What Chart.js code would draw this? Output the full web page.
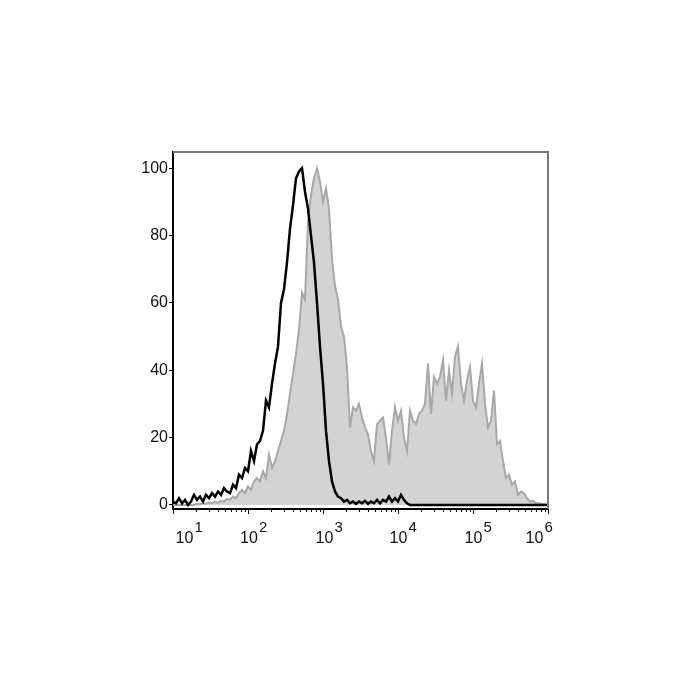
<!DOCTYPE html>
<html>
<head>
<meta charset="utf-8">
<script src="https://cdn.jsdelivr.net/npm/chart.js@4"></script>
<style>
  html, body { margin: 0; padding: 0; background: #fff; }
  #wrap { width: 700px; height: 700px; }
</style>
</head>
<body>
<div id="wrap"><canvas id="c" width="700" height="700"></canvas></div>
<script>
// Flow histogram: isotype control (black line) vs stained sample (grey filled)
// x is in log10 decades (10^1 .. 10^6), y is % of max

const decades = [1, 2, 3, 4, 5, 6];
const yTicks = [0, 20, 40, 60, 80, 100];

// channel grid: 126 bins, 0.04 decade wide, starting at 10^1
const CH_MIN = 1;
const CH_STEP = 0.04;

const isotype = [
  1, 0.5, 2, 0.5, 1.5, 0, 1, 3, 1.5, 2.5,
  1, 3, 2, 3.5, 2.5, 4, 3, 5, 4, 3.5,
  6, 5, 9, 8, 11, 10, 16, 13, 18, 19,
  22, 31, 29, 36, 42, 47, 60, 64, 72, 82,
  89, 97, 99, 100, 93, 88, 80, 72, 60, 47,
  36, 22, 13, 7, 4, 2.5, 2, 1, 1.5, 0.5,
  1, 0.3, 1, 0.5, 1.2, 0.3, 1, 0.5, 1.5, 0.5,
  1.5, 1, 2.5, 1, 2, 1, 3, 1.5, 0.5, 0,
  0, 0, 0, 0, 0, 0, 0, 0, 0, 0,
  0, 0, 0, 0, 0, 0, 0, 0, 0, 0,
  0, 0, 0, 0, 0, 0, 0, 0, 0, 0,
  0, 0, 0, 0, 0, 0, 0, 0, 0, 0,
  0, 0, 0, 0, 0, 0
];

const sample = [
  0, 0, 0, 0, 0, 0, 0, 0, 0.3, 0.2,
  0.5, 0.3, 0.8, 0.5, 1, 0.6, 1.2, 1, 1.8, 1.5,
  2.5, 2, 3.5, 4.5, 3.5, 5.5, 4.5, 7, 8, 7,
  10, 8, 15, 11, 13, 16, 19, 22, 27, 33,
  39, 45, 52, 63, 61, 84, 92, 97, 100, 96,
  90, 94, 88, 73, 65, 61, 53, 50, 41, 23,
  29, 28, 30, 26, 23, 21, 16, 13, 24, 25,
  26, 20, 12, 22, 29, 25, 28, 20, 16, 28,
  25, 24, 27, 28, 30, 42, 27, 38, 36, 38,
  43, 31, 40, 33, 44, 47, 36, 31, 37, 41,
  31, 29, 36, 42, 30, 23, 25, 34, 18, 19,
  13, 8, 9, 6, 7, 3, 4, 3.5, 2, 1,
  1.2, 0.5, 0.5, 0.3, 0.2, 0
];

const channels = sample.map((_, i) => CH_MIN + i * CH_STEP);
const toPts = vals => vals.map((v, i) => ({ x: channels[i], y: v }));

// edge labels sit inside the frame, like the original export
const labelNudge = [11.5, 1, 1.5, 0.5, 0.5, -13.5];
const FONT = '"Liberation Sans", Arial, sans-serif';

const frameAndLabels = {
  id: "frameAndLabels",
  afterDraw(chart){
    const { ctx, chartArea: a } = chart;
    const x = chart.scales.x;
    ctx.save();

    // top + right frame (lighter than the axes)
    ctx.strokeStyle = "#777";
    ctx.lineWidth = 2;
    ctx.beginPath();
    ctx.moveTo(a.left, a.top);
    ctx.lineTo(a.right, a.top);
    ctx.lineTo(a.right, a.bottom);
    ctx.stroke();

    // minor log ticks
    ctx.strokeStyle = "#000";
    ctx.lineWidth = 1;
    ctx.beginPath();
    decades.slice(0, -1).forEach(d => {
      for (let k = 2; k < 10; k++){
        const px = Math.round(x.getPixelForValue(d + Math.log10(k))) + 0.5;
        ctx.moveTo(px, a.bottom);
        ctx.lineTo(px, a.bottom + 3);
      }
    });
    ctx.stroke();

    // 10^n labels
    ctx.fillStyle = "#111";
    ctx.textBaseline = "alphabetic";
    decades.forEach((d, i) => {
      const px = x.getPixelForValue(d) + labelNudge[i];
      ctx.font = "16px " + FONT;
      const w = ctx.measureText("10").width;
      ctx.textAlign = "center";
      ctx.fillText("10", px, a.bottom + 34);
      ctx.font = "15px " + FONT;
      ctx.textAlign = "left";
      ctx.fillText(String(d), px + w / 2 + 1, a.bottom + 23);
    });
    ctx.restore();
  }
};

new Chart(document.getElementById("c"), {
  type: "line",
  data: {
    datasets: [
      {
        label: "Isotype",
        data: toPts(isotype),
        borderColor: "#000",
        borderWidth: 2.5,
        pointRadius: 0,
        fill: false,
        tension: 0,
        order: 0
      },
      {
        label: "Sample",
        data: toPts(sample),
        borderColor: "#a8a8a8",
        backgroundColor: "#d3d3d3",
        borderWidth: 2,
        pointRadius: 0,
        fill: "origin",
        tension: 0,
        order: 1
      }
    ]
  },
  options: {
    responsive: false,
    animation: false,
    layout: { padding: { top: 152, right: 152, left: 0, bottom: 0 } },
    plugins: { legend: { display: false }, tooltip: { enabled: false } },
    scales: {
      x: {
        type: "linear",
        min: 1,
        max: 6,
        afterBuildTicks(s){ s.ticks = decades.map(v => ({ value: v })); },
        afterFit(s){ s.height = 191; },
        grid: { drawOnChartArea: false, drawTicks: true, tickLength: 5, tickColor: "#000", tickWidth: 1 },
        border: { display: true, color: "#000", width: 2 },
        ticks: { callback: () => "", padding: 0 }
      },
      y: {
        type: "linear",
        min: -1.2,
        max: 104.8,
        afterBuildTicks(s){ s.ticks = yTicks.map(v => ({ value: v })); },
        afterFit(s){ s.width = 173; },
        grid: { drawOnChartArea: false, drawTicks: true, tickLength: 4, tickColor: "#000", tickWidth: 1 },
        border: { display: true, color: "#000", width: 2 },
        ticks: { color: "#111", font: { family: FONT, size: 16 }, padding: 1 }
      }
    }
  },
  plugins: [frameAndLabels]
});
</script>
</body>
</html>
